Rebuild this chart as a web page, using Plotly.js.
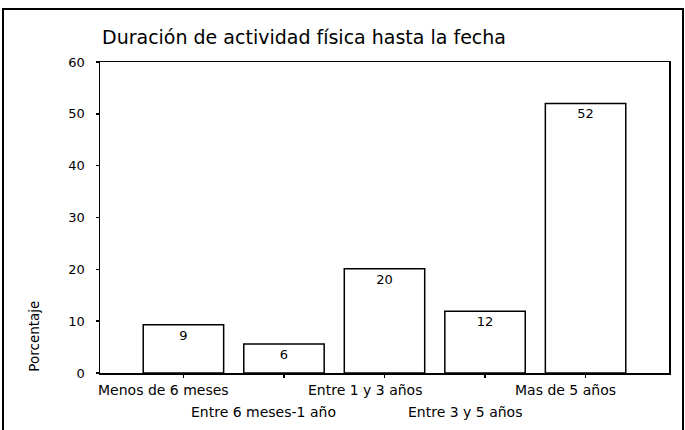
<!DOCTYPE html>
<html>
<head>
<meta charset="utf-8">
<script src="https://cdn.plot.ly/plotly-3.0.1.min.js"></script>
<style>
  html, body { margin: 0; padding: 0; background: #fff; overflow: hidden; }
  #chart { position: absolute; left: 0; top: 0; width: 685px; height: 430px; }
  #frame { position: absolute; left: 2px; top: 8px; width: 682px; height: 440px;
           box-sizing: border-box; border: 2px solid #000; pointer-events: none; }
</style>
</head>
<body>
<div id="chart"></div>
<div id="frame"></div>
<script>
const categories = ['Menos de 6 meses', 'Entre 6 meses-1 año', 'Entre 1 y 3 años', 'Entre 3 y 5 años', 'Mas de 5 años'];
const percentages = [9.3, 5.6, 20.1, 11.9, 52.0];
const labelRow = [0, 1, 0, 1, 0];
const yTicks = [0, 10, 20, 30, 40, 50, 60];
const chartTitle = 'Duración de actividad física hasta la fecha';
const yTitle = 'Porcentaje';

const tickFont = { family: 'DejaVu Sans', size: 14, color: '#000' };

const trace = {
  type: 'bar',
  x: categories,
  y: percentages,
  marker: { color: '#ffffff', line: { color: '#000', width: 1.5 } },
  texttemplate: '%{y:.0f}',
  textposition: 'inside',
  insidetextanchor: 'end',
  textfont: { family: 'DejaVu Sans', size: 13, color: '#000' },
  hoverinfo: 'none'
};

const annotations = categories.map((c, i) => ({
  x: c, xref: 'x', y: 0, yref: 'paper',
  text: c, showarrow: false,
  xanchor: 'center', yanchor: 'middle',
  xshift: -20, yshift: labelRow[i] === 0 ? -17 : -39,
  font: tickFont
}));
annotations.push({
  x: -0.116, xref: 'paper', y: 0.12, yref: 'paper',
  text: yTitle, showarrow: false, textangle: -90,
  xanchor: 'center', yanchor: 'middle',
  font: { family: 'DejaVu Sans', size: 13.5, color: '#000' }
});

const layout = {
  width: 685, height: 430,
  margin: { l: 100, r: 16, t: 62, b: 57 },
  paper_bgcolor: 'rgba(0,0,0,0)',
  plot_bgcolor: '#fff',
  showlegend: false,
  bargap: 0.2,
  title: {
    text: chartTitle,
    x: 102 / 685, xref: 'container', xanchor: 'left',
    y: 1 - 37 / 430, yref: 'container', yanchor: 'middle',
    font: { family: 'DejaVu Sans', size: 19, color: '#000' }
  },
  xaxis: {
    type: 'category',
    range: [-0.83, 4.83],
    showline: true, linecolor: '#000', linewidth: 1.5, mirror: true,
    ticks: 'outside', ticklen: 3, tickcolor: '#000', tickwidth: 1.5,
    showticklabels: false, showgrid: false, zeroline: false, fixedrange: true
  },
  yaxis: {
    range: [0, 60],
    tickvals: yTicks,
    ticktext: yTicks.map(String),
    showline: true, linecolor: '#000', linewidth: 1.5, mirror: true,
    ticks: 'outside', ticklen: 3, tickcolor: '#000', tickwidth: 1.5,
    ticklabelstandoff: 8,
    tickfont: { family: 'DejaVu Sans', size: 13, color: '#000' },
    showgrid: false, zeroline: false, fixedrange: true
  },
  annotations: annotations
};

Plotly.newPlot('chart', [trace], layout, { displayModeBar: false, staticPlot: true });
</script>
</body>
</html>
